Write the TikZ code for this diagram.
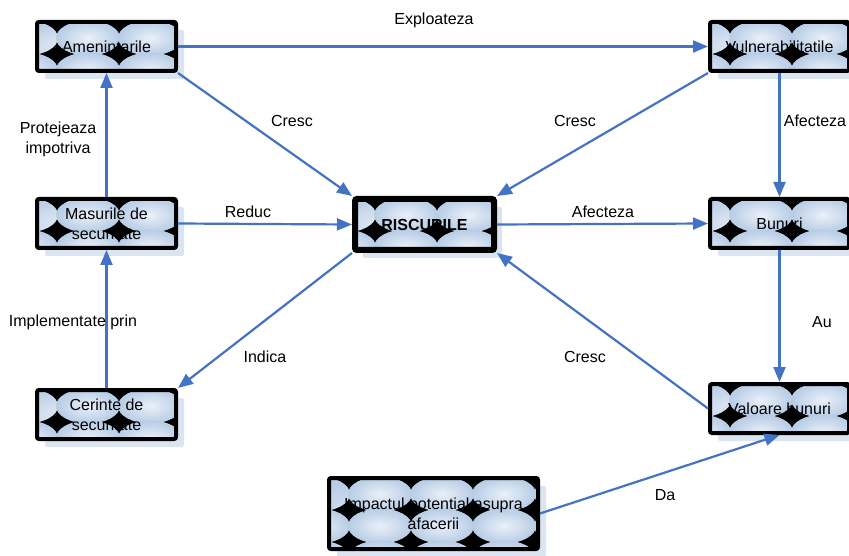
\documentclass[tikz,border=0pt]{standalone}
\usepackage{fontspec}
\setmainfont{Liberation Sans}
\usetikzlibrary{arrows.meta, shadows}
\definecolor{linkblue}{RGB}{68,114,196}
\definecolor{tilelo}{RGB}{183,204,229}
\definecolor{tilehi}{RGB}{234,240,249}
\definecolor{shadowblue}{RGB}{219,229,242}
\tikzset{
  >={Triangle[length=15pt, width=12pt]},
  link/.style={->, draw=linkblue, fill=linkblue, line width=2.2pt},
  lbl/.style={font=\fontsize{16}{20}\selectfont, align=center, inner sep=0pt},
  tilebox/.style={
    draw=black, line width=4pt, rounded corners=2pt, fill=black,
    minimum width=139pt, minimum height=49pt, inner sep=0pt,
    align=center, font=\fontsize{16}{20}\selectfont,
    drop shadow={shadow xshift=8pt, shadow yshift=-8pt, fill=shadowblue, opacity=1},
    path picture={
      \foreach \i in {0,...,4}
        \foreach \j in {0,1,2}
          \shade[inner color=tilehi, outer color=tilelo]
            ([shift={({-11pt+62pt*\i},{-16pt-32pt*\j})}]path picture bounding box.north west)
            ellipse [x radius=32pt, y radius=17.5pt];
    },
  },
}

\begin{document}
\begin{tikzpicture}[x=1pt, y=-1pt]
  \useasboundingbox (0,0) rectangle (849,556);

  % boxes
  \node[tilebox] (amenintari) at (106.5,46.5) {Amenintarile};
  \node[tilebox] (vulner) at (779.5,46.5) {Vulnerabilitatile};
  \node[tilebox] (masuri) at (106.5,223.5) {Masurile de\\securitate};
  \node[tilebox, line width=6pt, minimum height=51pt,
        font=\fontsize{16}{20}\selectfont\bfseries] (riscuri) at (424.5,224.5) {RISCURILE};
  \node[tilebox] (bunuri) at (779.5,223.5) {Bunuri};
  \node[tilebox] (cerinte) at (106.5,414.5) {Cerinte de\\securitate};
  \node[tilebox] (valoare) at (779.5,408.5) {Valoare bunuri};
  \node[tilebox, minimum width=209pt, minimum height=71pt] (impact) at (433.5,513.5)
       {Impactul potential asupra\\afacerii};

  % links
  \draw[link] (amenintari.east) -- (vulner.west);
  \draw[link] (amenintari.south east) -- (riscuri.north west);
  \draw[link] (vulner.south west) -- (riscuri.north east);
  \draw[link] (vulner.south) -- (bunuri.north);
  \draw[link] (masuri.east) -- (riscuri.west);
  \draw[link] (masuri.north) -- (amenintari.south);
  \draw[link] (cerinte.north) -- (masuri.south);
  \draw[link] (riscuri.south west) -- (cerinte.north east);
  \draw[link] (riscuri.east) -- (bunuri.west);
  \draw[link] (bunuri.south) -- (valoare.north);
  \draw[link] (valoare.west) -- (riscuri.south east);
  \draw[link] (impact.east) -- (valoare.south);

  % labels
  \node[lbl] (l-exploateza) at (434,20) {Exploateza};
  \node[lbl] (l-cresc1) at (292,121) {Cresc};
  \node[lbl] (l-cresc2) at (575,121) {Cresc};
  \node[lbl] (l-afecteza1) at (815,121) {Afecteza};
  \node[lbl] (l-reduc) at (248,212) {Reduc};
  \node[lbl] (l-afecteza2) at (603,212) {Afecteza};
  \node[lbl] (l-protejeaza) at (58,139) {Protejeaza\\impotriva};
  \node[lbl] (l-implementate) at (73,322) {Implementate prin};
  \node[lbl] (l-indica) at (265,357) {Indica};
  \node[lbl] (l-cresc3) at (585,357) {Cresc};
  \node[lbl] (l-au) at (822,322) {Au};
  \node[lbl] (l-da) at (665,495) {Da};
\end{tikzpicture}
\end{document}
